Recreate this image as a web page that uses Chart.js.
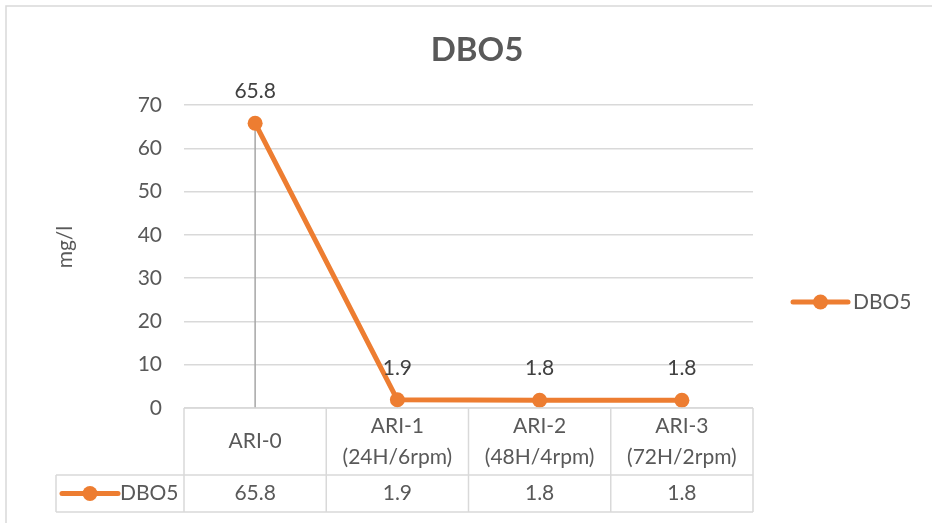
<!DOCTYPE html>
<html>
<head>
<meta charset="utf-8">
<script src="https://cdn.jsdelivr.net/npm/chart.js@4.4.0/dist/chart.umd.min.js"></script>
<style>
  html, body { margin: 0; padding: 0; background: #ffffff; }
  #wrap { width: 932px; height: 523px; position: relative; }
</style>
</head>
<body>
<div id="wrap"><canvas id="c" width="932" height="523"></canvas></div>
<script>
// Categories (each entry is the lines of its table header cell)
const categories = [
  ['ARI-0'],
  ['ARI-1', '(24H/6rpm)'],
  ['ARI-2', '(48H/4rpm)'],
  ['ARI-3', '(72H/2rpm)']
];
const seriesName = 'DBO5';
const dboValues = [65.8, 1.9, 1.8, 1.8];
const valueLabels = ['65.8', '1.9', '1.8', '1.8'];
const yTickValues = [0, 10, 20, 30, 40, 50, 60, 70];
const chartTitle = 'DBO5';
const yAxisTitle = 'mg/l';

const ORANGE = '#ED7D31';
const TEXT = '#595959';
const LINE_GRAY = '#d9d9d9';
const FONT = 'Lato, "Open Sans", sans-serif';

function legendKey(ctx, x1, x2, y) {
  ctx.save();
  ctx.strokeStyle = ORANGE;
  ctx.lineWidth = 5;
  ctx.lineCap = 'round';
  ctx.beginPath();
  ctx.moveTo(x1, y);
  ctx.lineTo(x2, y);
  ctx.stroke();
  ctx.fillStyle = ORANGE;
  ctx.beginPath();
  ctx.arc((x1 + x2) / 2, y, 7.5, 0, Math.PI * 2);
  ctx.fill();
  ctx.restore();
}

// Drop lines from each point down to the axis
const dropLines = {
  id: 'dropLines',
  beforeDatasetsDraw(chart) {
    const ctx = chart.ctx;
    const y = chart.scales.y;
    const meta = chart.getDatasetMeta(0);
    ctx.save();
    ctx.strokeStyle = '#a6a6a6';
    ctx.lineWidth = 1.5;
    meta.data.forEach((pt) => {
      ctx.beginPath();
      ctx.moveTo(pt.x, pt.y);
      ctx.lineTo(pt.x, y.getPixelForValue(0));
      ctx.stroke();
    });
    ctx.restore();
  }
};

// Frame, title, axis title, legend, value labels and the data table
const decorations = {
  id: 'decorations',
  afterDraw(chart) {
    const ctx = chart.ctx;
    const area = chart.chartArea;
    const xs = chart.scales.x;
    const ys = chart.scales.y;
    const n = categories.length;
    const step = (area.right - area.left) / n;

    ctx.save();
    // outer frame
    ctx.strokeStyle = LINE_GRAY;
    ctx.lineWidth = 1.5;
    ctx.beginPath();
    ctx.moveTo(6, 523);
    ctx.lineTo(6, 6);
    ctx.lineTo(932, 6);
    ctx.stroke();

    // title
    ctx.fillStyle = TEXT;
    ctx.font = 'bold 33px ' + FONT;
    ctx.textAlign = 'center';
    ctx.textBaseline = 'middle';
    ctx.fillText(chartTitle, 477, 50);

    // y axis title
    ctx.save();
    ctx.translate(65, 247);
    ctx.rotate(-Math.PI / 2);
    ctx.font = '21px ' + FONT;
    ctx.fillText(yAxisTitle, 0, 0);
    ctx.restore();

    // value labels above points
    const meta = chart.getDatasetMeta(0);
    ctx.fillStyle = '#404040';
    ctx.font = '21px ' + FONT;
    meta.data.forEach((pt, i) => {
      ctx.fillText(valueLabels[i], pt.x, pt.y - 32);
    });

    // right legend
    legendKey(ctx, 793, 848, 302);
    ctx.fillStyle = TEXT;
    ctx.textAlign = 'left';
    ctx.fillText(seriesName, 853, 302);

    // data table
    const top = ys.getPixelForValue(0);
    const mid = top + 67;
    const bottom = mid + 37;
    const keyLeft = 56;
    ctx.strokeStyle = LINE_GRAY;
    ctx.lineWidth = 1.5;
    ctx.beginPath();
    ctx.moveTo(area.left, top); ctx.lineTo(area.right, top);
    ctx.moveTo(keyLeft, mid); ctx.lineTo(area.right, mid);
    ctx.moveTo(keyLeft, bottom); ctx.lineTo(area.right, bottom);
    ctx.moveTo(keyLeft, mid); ctx.lineTo(keyLeft, bottom);
    for (let i = 0; i <= n; i++) {
      const bx = area.left + step * i;
      ctx.moveTo(bx, top); ctx.lineTo(bx, bottom);
    }
    ctx.stroke();

    ctx.fillStyle = TEXT;
    ctx.font = '21px ' + FONT;
    ctx.textAlign = 'center';
    ctx.textBaseline = 'middle';
    const headCenter = (top + mid) / 2;
    const lh = 31;
    categories.forEach((lines, i) => {
      const cx = xs.getPixelForValue(i);
      const y0 = headCenter - (lines.length - 1) * lh / 2;
      lines.forEach((t, k) => ctx.fillText(t, cx, y0 + k * lh));
      ctx.fillText(valueLabels[i], cx, (mid + bottom) / 2);
    });

    legendKey(ctx, 62, 118, (mid + bottom) / 2);
    ctx.textAlign = 'left';
    ctx.fillText(seriesName, 120, (mid + bottom) / 2);
    ctx.restore();
  }
};

new Chart(document.getElementById('c'), {
  type: 'line',
  data: {
    labels: categories.map(c => c.join(' ')),
    datasets: [{
      label: seriesName,
      data: dboValues,
      borderColor: ORANGE,
      backgroundColor: ORANGE,
      borderWidth: 5,
      borderCapStyle: 'round',
      borderJoinStyle: 'round',
      pointRadius: 7.5,
      pointBorderWidth: 0,
      pointBackgroundColor: ORANGE,
      tension: 0,
      clip: false
    }]
  },
  options: {
    responsive: false,
    animation: false,
    devicePixelRatio: 1,
    layout: { padding: { top: 105, left: 0, right: 179, bottom: 115 } },
    plugins: {
      legend: { display: false },
      title: { display: false },
      tooltip: { enabled: false }
    },
    scales: {
      x: {
        type: 'category',
        offset: true,
        display: false
      },
      y: {
        min: 0,
        max: 70,
        afterBuildTicks: (s) => { s.ticks = yTickValues.map(v => ({ value: v })); },
        afterFit: (s) => { s.width = 184; },
        border: { display: false },
        grid: { color: LINE_GRAY, lineWidth: 1.5, drawTicks: false },
        ticks: {
          padding: 22,
          color: TEXT,
          font: { family: FONT, size: 21 }
        }
      }
    }
  },
  plugins: [dropLines, decorations]
});
</script>
</body>
</html>
